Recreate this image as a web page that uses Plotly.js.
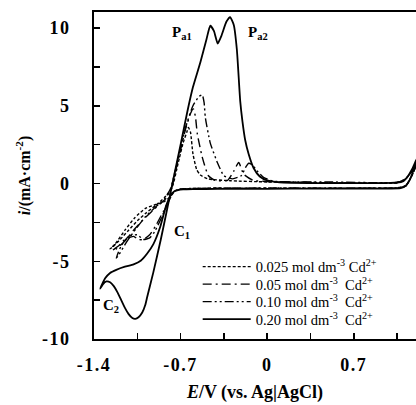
<!DOCTYPE html>
<html><head><meta charset="utf-8">
<script src="https://cdn.plot.ly/plotly-3.0.1.min.js"></script>
<style>body{margin:0;background:#fff}#c{width:416px;height:405px}</style>
</head><body><div id="c"></div>
<script>
// Series labels
const names = ['0.025 mol dm<sup>-3</sup> Cd<sup>2+</sup>','0.05 mol dm<sup>-3</sup>  Cd<sup>2+</sup>','0.10 mol dm<sup>-3</sup>  Cd<sup>2+</sup>','0.20 mol dm<sup>-3</sup>  Cd<sup>2+</sup>'];

// 0.025 mol dm-3
const e025 = [1.21,1.17,1.12,1.05,0.6,0,-0.6,-0.7,-0.75,-0.79,-0.84,-0.9,-0.985,-1.07,-1.15,-1.23,-1.27,
  -1.25,-1.2,-1.12,-1.05,-0.98,-0.9,-0.83,-0.77,-0.72,-0.68,-0.65,-0.637,-0.62,-0.6,-0.57,-0.54,-0.48,-0.3,0,0.5,1.05,1.12,1.17,1.21];
const i025 = [1.3,0.5,-0.15,-0.28,-0.3,-0.3,-0.32,-0.36,-0.5,-0.9,-1.2,-1.35,-1.6,-2.2,-3.0,-3.9,-4.2,
  -4.1,-3.7,-3.0,-2.4,-1.9,-1.4,-0.9,-0.3,1.3,2.6,3.3,3.6,3.3,1.9,0.9,0.55,0.3,0.18,0.1,0.05,0.05,0.3,0.8,1.5];

// 0.05 mol dm-3
const e05 = [1.21,1.17,1.12,1.05,0.6,0,-0.6,-0.7,-0.75,-0.79,-0.84,-0.9,-0.95,-1.0,-1.04,-1.08,-1.15,-1.2,-1.25,
  -1.22,-1.15,-1.08,-1.0,-0.92,-0.85,-0.8,-0.77,-0.72,-0.66,-0.62,-0.597,-0.58,-0.565,-0.525,-0.475,-0.42,-0.32,-0.27,-0.23,-0.19,-0.11,0.3,1.05,1.12,1.17,1.21];
const i05 = [1.3,0.5,-0.15,-0.28,-0.3,-0.3,-0.32,-0.36,-0.5,-1.0,-1.8,-2.7,-3.3,-3.6,-3.6,-3.4,-3.6,-4.0,-4.3,
  -4.2,-3.7,-3.0,-2.3,-1.7,-1.2,-0.8,-0.2,1.5,3.5,4.5,4.8,4.3,3.2,1.7,0.5,0.2,0.2,0.8,1.35,0.6,0.2,0.08,0.05,0.3,0.8,1.5];

// 0.10 mol dm-3
const e10 = [1.21,1.17,1.12,1.05,0.6,0,-0.6,-0.7,-0.75,-0.8,-0.86,-0.91,-0.95,-1.0,-1.05,-1.12,-1.18,-1.22,
  -1.2,-1.14,-1.06,-0.98,-0.9,-0.83,-0.78,-0.72,-0.66,-0.6,-0.55,-0.525,-0.51,-0.5,-0.46,-0.4,-0.35,-0.28,-0.21,-0.17,-0.15,-0.12,-0.08,-0.03,0.05,0.5,1.05,1.12,1.17,1.21];
const i10 = [1.3,0.5,-0.15,-0.28,-0.3,-0.3,-0.32,-0.36,-0.5,-1.2,-2.3,-3.1,-3.5,-3.6,-3.3,-3.4,-4.0,-4.8,
  -4.6,-3.8,-2.9,-2.1,-1.5,-1.0,-0.3,1.6,3.6,5.0,5.6,5.7,5.2,4.25,2.6,1.3,0.5,0.3,0.5,1.1,1.3,1.2,0.8,0.4,0.15,0.1,0.08,0.3,0.8,1.5];

// 0.20 mol dm-3
const e20 = [1.21,1.18,1.15,1.12,1.08,0.8,0.4,0,-0.4,-0.6,-0.68,-0.72,-0.75,-0.78,-0.82,-0.865,-0.92,-0.97,-1.02,-1.08,-1.15,-1.22,-1.27,-1.31,-1.35,
  -1.33,-1.3,-1.27,-1.24,-1.21,-1.18,-1.15,-1.12,-1.09,-1.066,-1.04,-1.01,-0.985,-0.97,-0.92,-0.86,-0.81,-0.766,-0.7,-0.646,-0.6,-0.54,-0.49,-0.46,-0.43,-0.4,-0.37,-0.33,-0.3,-0.27,-0.245,-0.218,-0.2,-0.178,-0.15,-0.11,-0.06,0,0.1,0.4,0.8,1.05,1.1,1.14,1.17,1.21];
const i20 = [1.6,0.8,0.2,-0.15,-0.3,-0.32,-0.33,-0.34,-0.35,-0.36,-0.38,-0.42,-0.5,-0.75,-1.5,-2.8,-3.9,-4.5,-4.95,-5.2,-5.35,-5.55,-5.75,-6.1,-6.76,
  -6.5,-6.3,-6.35,-6.6,-7.0,-7.5,-8.0,-8.4,-8.65,-8.7,-8.6,-8.3,-7.8,-7.3,-5.7,-3.6,-1.7,0,2.5,4.6,6.2,7.8,9.3,10.15,9.8,9.0,9.5,10.4,10.7,10.2,8.6,5.3,4.0,2.8,1.9,1.0,0.45,0.2,0.08,0.03,0.02,0.05,0.15,0.5,0.9,1.6];

// axis ticks
const xTicks = [-1.4,-0.7,0,0.7];
const yTicks = [-10,-5,0,5,10];

const serif = '"Liberation Serif", "Times New Roman", serif';
const mk = (x,y,name,dash,w) => ({x:x,y:y,name:name,type:'scatter',mode:'lines',
  line:{color:'#000',width:w,dash:dash,shape:'spline',smoothing:0.5}});

const data = [
  mk(e025,i025,names[0],'3px,2px',1.4),
  mk(e05,i05,names[1],'9px,4px,2px,4px',1.4),
  mk(e10,i10,names[2],'9px,3px,2px,3px,2px,3px',1.4),
  mk(e20,i20,names[3],'solid',1.8)
];

const bold = {family:serif,size:18,color:'#000',weight:700};
const layout = {
  width:416,height:405,
  margin:{l:94,r:0,t:12,b:66},
  paper_bgcolor:'#fff',plot_bgcolor:'#fff',
  font:{family:serif,color:'#000'},
  showlegend:true,
  legend:{x:0.322,y:0.27,xanchor:'left',yanchor:'top',bgcolor:'rgba(0,0,0,0)',
    font:{family:serif,size:14.5,color:'#000'},itemwidth:48,tracegroupgap:0},
  xaxis:{range:[-1.4,1.203],tickvals:xTicks,ticktext:xTicks.map(String),
    ticks:'inside',ticklen:6,tickwidth:1.5,tickcolor:'#000',
    minor:{dtick:0.35,tick0:-1.4,ticks:'inside',ticklen:6,tickwidth:1.5,tickcolor:'#000'},
    showline:true,linewidth:2,linecolor:'#000',mirror:true,showgrid:false,zeroline:false,
    tickfont:bold,ticklabelstandoff:8,
    title:{text:'<i>E</i>/V (vs. Ag|AgCl)',font:{family:serif,size:18,color:'#000',weight:700},standoff:12}},
  yaxis:{range:[-10,11.03],tickvals:yTicks,ticktext:yTicks.map(String),
    ticks:'inside',ticklen:6,tickwidth:1.5,tickcolor:'#000',
    minor:{dtick:2.5,tick0:0,ticks:'inside',ticklen:6,tickwidth:1.5,tickcolor:'#000'},
    showline:true,linewidth:2,linecolor:'#000',showgrid:false,zeroline:false,
    tickfont:bold,ticklabelstandoff:18,
    title:{text:'<i>i</i>/(mA·cm<sup>-2</sup>)',font:{family:serif,size:16,color:'#000',weight:700},standoff:12}},
  annotations:[
    {x:-0.687,y:9.65,text:'P<sub>a1</sub>',showarrow:false,font:{family:serif,size:15,color:'#000',weight:700}},
    {x:-0.073,y:9.65,text:'P<sub>a2</sub>',showarrow:false,font:{family:serif,size:15,color:'#000',weight:700}},
    {x:-0.687,y:-3.15,text:'C<sub>1</sub>',showarrow:false,font:{family:serif,size:15,color:'#000',weight:700}},
    {x:-1.26,y:-7.85,text:'C<sub>2</sub>',showarrow:false,font:{family:serif,size:15,color:'#000',weight:700}}
  ]
};
Plotly.newPlot('c',data,layout,{displayModeBar:false,staticPlot:true}).then(gd => {
  // widen tick labels slightly like the reference lettering
  gd.querySelectorAll('.xtick text, .ytick text').forEach(t => { t.style.letterSpacing = '1.5px'; });
  // tighter legend rows as in the reference
  const rows = gd.querySelectorAll('.legend .traces');
  let y0 = null;
  rows.forEach((g, k) => {
    const m = /translate\(([-\d.]+),\s*([-\d.]+)\)/.exec(g.getAttribute('transform') || '');
    if (!m) return;
    if (y0 === null) y0 = parseFloat(m[2]);
    g.setAttribute('transform', 'translate(' + m[1] + ',' + (y0 + k * 17.5) + ')');
  });
});
</script></body></html>
